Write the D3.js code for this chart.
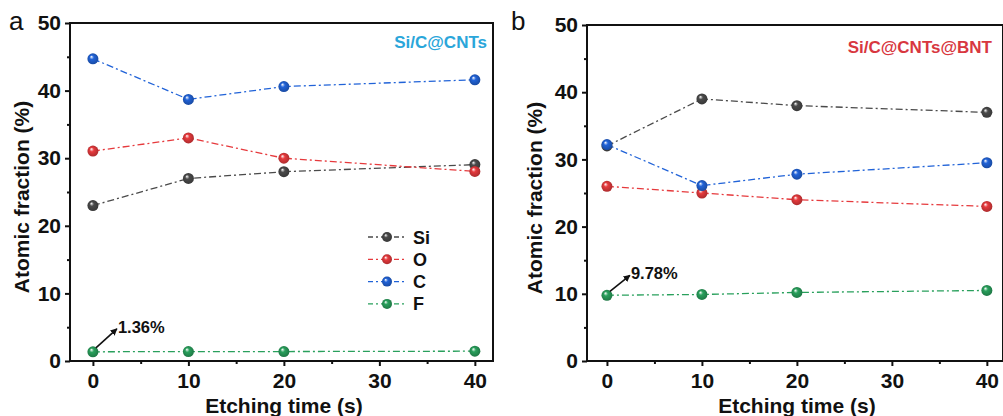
<!DOCTYPE html>
<html><head><meta charset="utf-8">
<script src="https://cdn.jsdelivr.net/npm/d3@7"></script>
<style>body{margin:0;background:#fff}svg{display:block}text{font-family:Arial,"Liberation Sans",sans-serif}</style>
</head><body><svg id="c" width="1003" height="416"></svg>
<script>
const times = [0, 10, 20, 40];
const elements = ["Si", "O", "C", "F"];
const colors = {Si: "#4a4a4a", O: "#e63a3d", C: "#2163d8", F: "#29a05c"};
const aSi = [23, 27, 28, 29.05];
const aO  = [31.05, 33, 30, 28.05];
const aC  = [44.7, 38.7, 40.6, 41.6];
const aF  = [1.36, 1.4, 1.4, 1.45];
const bSi = [32, 39, 38, 37];
const bO  = [26, 25, 24, 23];
const bC  = [32.2, 26.1, 27.8, 29.5];
const bF  = [9.78, 9.9, 10.2, 10.5];
const yTicks = [0, 10, 20, 30, 40, 50];
const xTicks = [0, 10, 20, 30, 40];
const titleA = "Si/C@CNTs", titleB = "Si/C@CNTs@BNT";
const noteA = "1.36%", noteB = "9.78%";

const svg = d3.select("#c");
const defs = svg.append("defs");
elements.forEach(e => {
  const g = defs.append("radialGradient").attr("id", "g" + e)
    .attr("cx", "50%").attr("cy", "50%").attr("r", "55%").attr("fx", "35%").attr("fy", "30%");
  g.append("stop").attr("offset", "0%").attr("stop-color", "#fff");
  g.append("stop").attr("offset", "35%").attr("stop-color", colors[e]);
  g.append("stop").attr("offset", "100%").attr("stop-color", d3.color(colors[e]).darker(0.9));
});
const mk = defs.append("marker").attr("id", "arr").attr("viewBox", "0 0 10 10")
  .attr("refX", 9).attr("refY", 5).attr("markerWidth", 7).attr("markerHeight", 7)
  .attr("orient", "auto").attr("markerUnits", "userSpaceOnUse");
mk.append("path").attr("d", "M0,0 L10,5 L0,10 z").attr("fill", "#111");

function panel(o) {
  const x = d3.scaleLinear().domain(o.xd).range([o.l, o.r]);
  const y = d3.scaleLinear().domain([0, 50]).range([o.b, o.t]);
  const g = svg.append("g");
  g.append("rect").attr("x", o.l).attr("y", o.t).attr("width", o.r - o.l).attr("height", o.b - o.t)
    .attr("fill", "none").attr("stroke", "#111").attr("stroke-width", 2);
  const ya = g.append("g").attr("transform", `translate(${o.l},0)`)
    .call(d3.axisLeft(y).tickValues(yTicks).tickSize(5).tickPadding(4));
  const yminor = g.append("g").attr("transform", `translate(${o.l},0)`)
    .call(d3.axisLeft(y).tickValues([5, 15, 25, 35, 45]).tickSize(3).tickFormat(""));
  const xa = g.append("g").attr("transform", `translate(0,${o.b})`)
    .call(d3.axisBottom(x).tickValues(xTicks).tickSize(5).tickPadding(7));
  const xminor = g.append("g").attr("transform", `translate(0,${o.b})`)
    .call(d3.axisBottom(x).tickValues([5, 15, 25, 35]).tickSize(3).tickFormat(""));
  [ya, yminor, xa, xminor].forEach(a => {
    a.select(".domain").remove();
    a.selectAll("line").attr("stroke", "#111").attr("stroke-width", 2);
    a.selectAll("text").attr("font-size", 21).attr("font-weight", "bold").attr("fill", "#111");
  });
  g.append("text").attr("transform", `translate(${o.ylx},${(o.t + o.b) / 2 + 5}) rotate(-90)`)
    .attr("text-anchor", "middle").attr("font-size", 21).attr("font-weight", "bold").attr("fill", "#111")
    .text("Atomic fraction (%)");
  g.append("text").attr("x", x(20)).attr("y", 413).attr("text-anchor", "middle")
    .attr("font-size", 21).attr("font-weight", "bold").attr("fill", "#111").text("Etching time (s)");
  g.append("text").attr("x", o.letterX).attr("y", 30).attr("font-size", 26).attr("fill", "#111").text(o.letter);
  g.append("text").attr("x", o.titleX).attr("y", o.titleY).attr("text-anchor", "end")
    .attr("font-size", 17).attr("font-weight", "bold").attr("fill", o.titleColor).text(o.title);
  const line = d3.line().x((d, i) => x(times[i])).y(d => y(d));
  o.series.forEach(([e, vals]) => {
    g.append("path").attr("d", line(vals)).attr("fill", "none").attr("stroke", colors[e])
      .attr("stroke-width", 1.3).attr("stroke-dasharray", "7,3,2,3");
  });
  o.series.forEach(([e, vals]) => {
    g.selectAll(null).data(vals).enter().append("circle")
      .attr("cx", (d, i) => x(times[i])).attr("cy", d => y(d)).attr("r", 5.5)
      .attr("fill", `url(#g${e})`);
  });
  const f0 = o.series[3][1][0];
  const ax0 = x(0) + 3, ay0 = y(f0) - 4;
  g.append("line").attr("x1", ax0).attr("y1", ay0).attr("x2", ax0 + o.arr[0]).attr("y2", ay0 - o.arr[1])
    .attr("stroke", "#111").attr("stroke-width", 1.6).attr("marker-end", "url(#arr)");
  g.append("text").attr("x", ax0 + o.arr[0] + 1).attr("y", ay0 - o.arr[1] + 4)
    .attr("font-size", 16.5).attr("font-weight", "bold").attr("fill", "#111").text(o.note);
  return {x, y, g};
}

const pa = panel({l: 70, r: 493, t: 23, b: 361, xd: [-2.4, 41.9], ylx: 29, letter: "a", letterX: 9,
  title: titleA, titleX: 487, titleY: 48, titleColor: "#2aa6da", note: noteA, arr: [21, 19],
  series: [["Si", aSi], ["O", aO], ["C", aC], ["F", aF]]});
const pb = panel({l: 587, r: 1003, t: 25, b: 361, xd: [-2.1, 41.7], ylx: 542, letter: "b", letterX: 511,
  title: titleB, titleX: 992, titleY: 53, titleColor: "#d8373f", note: noteB, arr: [20, 16],
  series: [["Si", bSi], ["O", bO], ["C", bC], ["F", bF]]});

const leg = pa.g.append("g");
elements.forEach((e, i) => {
  const yy = 237 + i * 22.3;
  leg.append("line").attr("x1", 368).attr("x2", 405).attr("y1", yy).attr("y2", yy)
    .attr("stroke", colors[e]).attr("stroke-width", 1.3).attr("stroke-dasharray", "5,3,2,3");
  leg.append("circle").attr("cx", 387).attr("cy", yy).attr("r", 5).attr("fill", `url(#g${e})`);
  leg.append("text").attr("x", 413).attr("y", yy + 6.5).attr("font-size", 18).attr("font-weight", "bold")
    .attr("fill", "#111").text(e);
});
</script></body></html>
